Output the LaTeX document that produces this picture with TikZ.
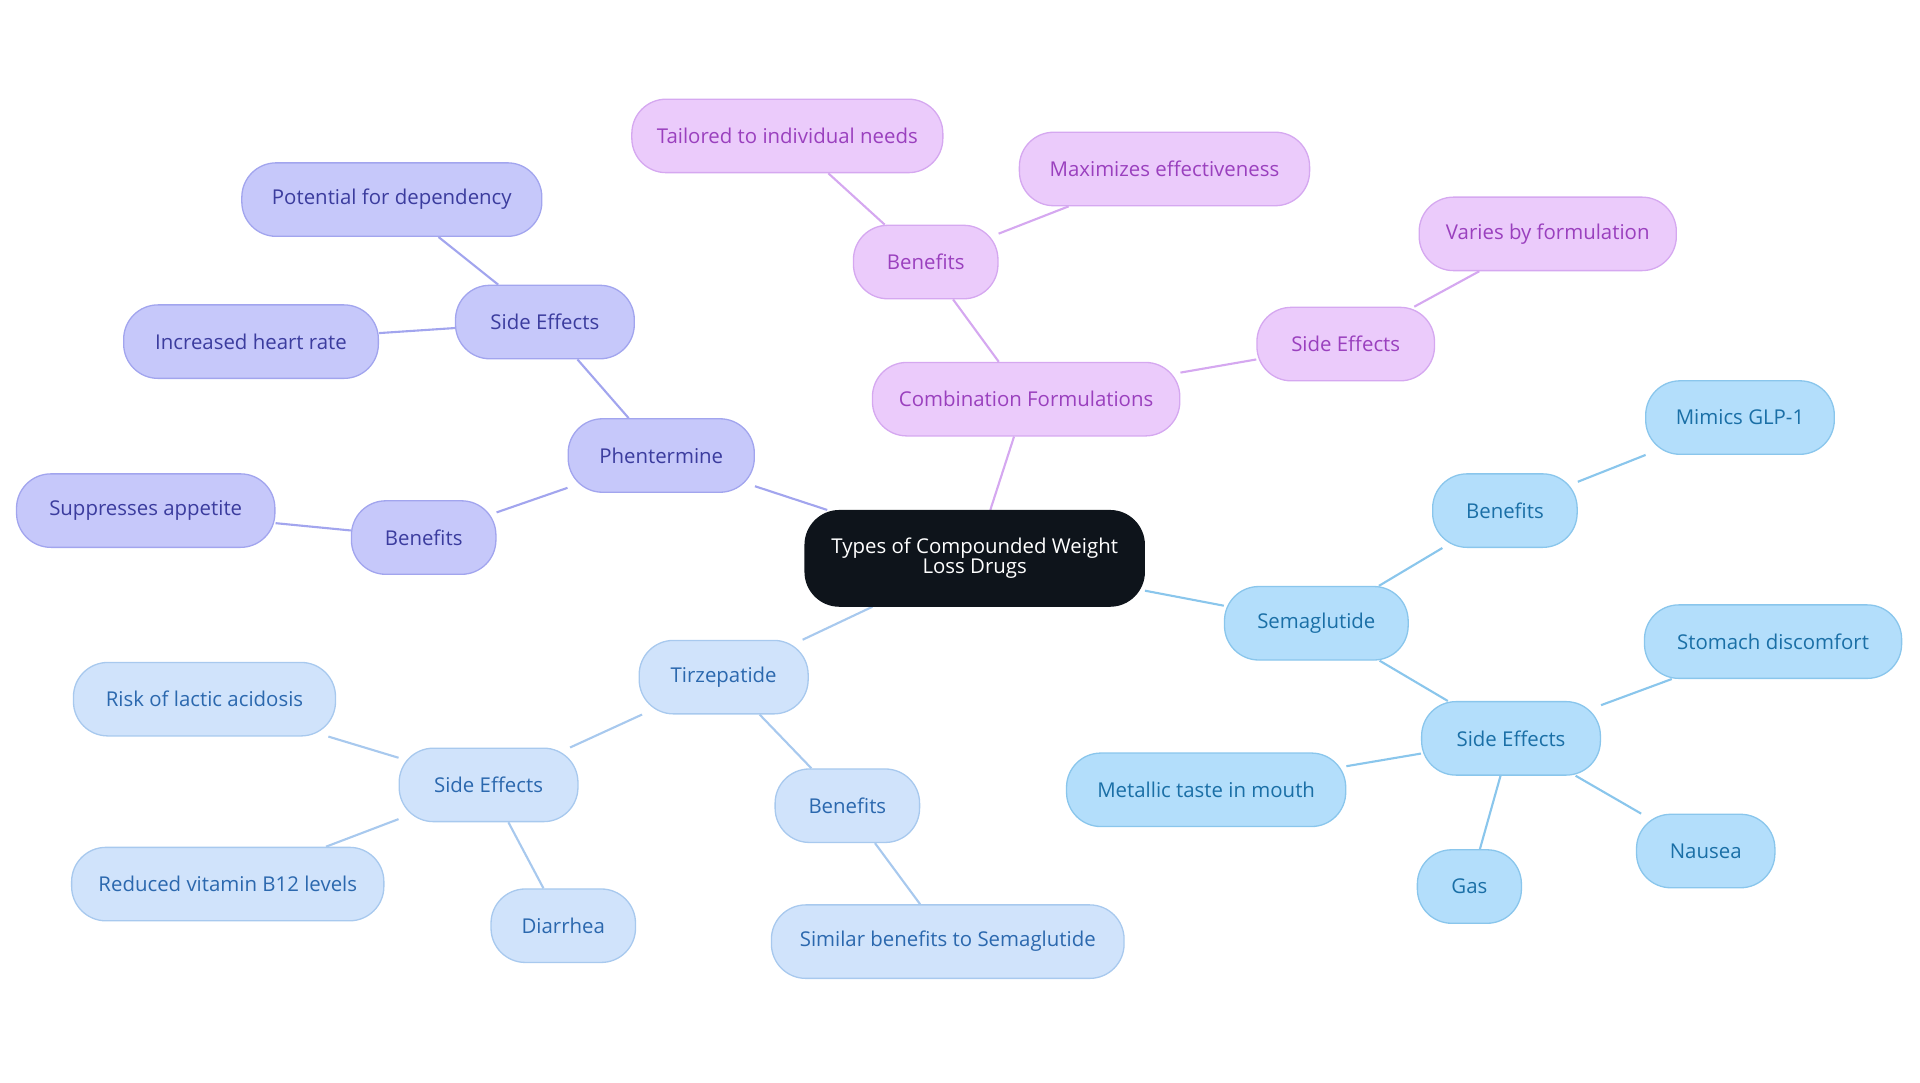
\documentclass[tikz,border=0pt]{standalone}
\usepackage{fontspec}
\setmainfont{Open Sans}
\usetikzlibrary{backgrounds}
\definecolor{pf}{HTML}{C6C8FA}\definecolor{ps}{HTML}{A2A5EE}\definecolor{pt}{HTML}{3B3C9E}
\definecolor{mf}{HTML}{EBCBFB}\definecolor{ms}{HTML}{D5A8F0}\definecolor{mt}{HTML}{9A40BE}
\definecolor{lf}{HTML}{D0E3FB}\definecolor{ls}{HTML}{A8C9EE}\definecolor{lt}{HTML}{2B68AE}
\definecolor{sf}{HTML}{B3DEFB}\definecolor{ss}{HTML}{8AC6EC}\definecolor{st}{HTML}{1A6FA6}
\definecolor{cf}{HTML}{0E141B}
\tikzset{
 b/.style={rounded corners=28*0.75pt,minimum height=60*0.75pt,inner sep=0pt,font=\fontsize{12.5}{14}\selectfont,line width=0.8pt},
 P/.style={b,fill=pf,draw=ps,text=pt},
 M/.style={b,fill=mf,draw=ms,text=mt},
 L/.style={b,fill=lf,draw=ls,text=lt},
 S/.style={b,fill=sf,draw=ss,text=st},
 pe/.style={draw=ps,line width=1.3pt},
 me/.style={draw=ms,line width=1.3pt},
 le/.style={draw=ls,line width=1.3pt},
 se/.style={draw=ss,line width=1.3pt},
}
\newcommand{\nd}[5]{\node[#1,minimum width=#4*0.75pt] (#2) at (#3) {#5};}
\begin{document}
\begin{tikzpicture}[x=0.75pt,y=-0.75pt]
\useasboundingbox (0,0) rectangle (1568,884);
\node[b,fill=cf,draw=cf,text=white,minimum width=277*0.75pt,minimum height=78*0.75pt,align=center] (c) at (796,456) {Types of Compounded Weight\\[-2pt]Loss Drugs};
\nd{P}{ph}{540,372}{152}{Phentermine}
\nd{P}{pse}{445,263}{146}{Side Effects}
\nd{P}{pd}{320,163}{245}{Potential for dependency}
\nd{P}{ph2}{205,279}{208}{Increased heart rate}
\nd{P}{pb}{346,439}{118}{Benefits}
\nd{P}{psa}{119,417}{211}{Suppresses appetite}
\nd{M}{cm}{838,326}{251}{Combination Formulations}
\nd{M}{cb}{756,214}{118}{Benefits}
\nd{M}{ct}{643,111}{254}{Tailored to individual needs}
\nd{M}{cx}{951,138}{237}{Maximizes effectiveness}
\nd{M}{cs}{1099,281}{145}{Side Effects}
\nd{M}{cv}{1264,191}{210}{Varies by formulation}
\nd{S}{sm}{1075,509}{150}{Semaglutide}
\nd{S}{sb}{1229,417}{118}{Benefits}
\nd{S}{sg}{1421,341}{154}{Mimics GLP-1}
\nd{S}{ss}{1234,603}{146}{Side Effects}
\nd{S}{sd}{1448,524}{210}{Stomach discomfort}
\nd{S}{sme}{985,645}{228}{Metallic taste in mouth}
\nd{S}{sga}{1200,724}{85}{Gas}
\nd{S}{sn}{1393,695}{113}{Nausea}
\nd{L}{tz}{591,553}{138}{Tirzepatide}
\nd{L}{ts}{399,641}{146}{Side Effects}
\nd{L}{tr}{167,571}{214}{Risk of lactic acidosis}
\nd{L}{tv}{186,722}{255}{Reduced vitamin B12 levels}
\nd{L}{td}{460,756}{118}{Diarrhea}
\nd{L}{tb}{692,658}{118}{Benefits}
\nd{L}{tsim}{774,769}{288}{Similar benefits to Semaglutide}
\begin{scope}[on background layer]
\draw[pe] (c)--(ph) (ph)--(pse) (pse)--(pd) (pse)--(ph2) (ph)--(pb) (pb)--(psa);
\draw[me] (c)--(cm) (cm)--(cb) (cb)--(ct) (cb)--(cx) (cm)--(cs) (cs)--(cv);
\draw[se] (c)--(sm) (sm)--(sb) (sb)--(sg) (sm)--(ss) (ss)--(sd) (ss)--(sme) (ss)--(sga) (ss)--(sn);
\draw[le] (c)--(tz) (tz)--(ts) (ts)--(tr) (ts)--(tv) (ts)--(td) (tz)--(tb) (tb)--(tsim);
\end{scope}
\end{tikzpicture}
\end{document}
